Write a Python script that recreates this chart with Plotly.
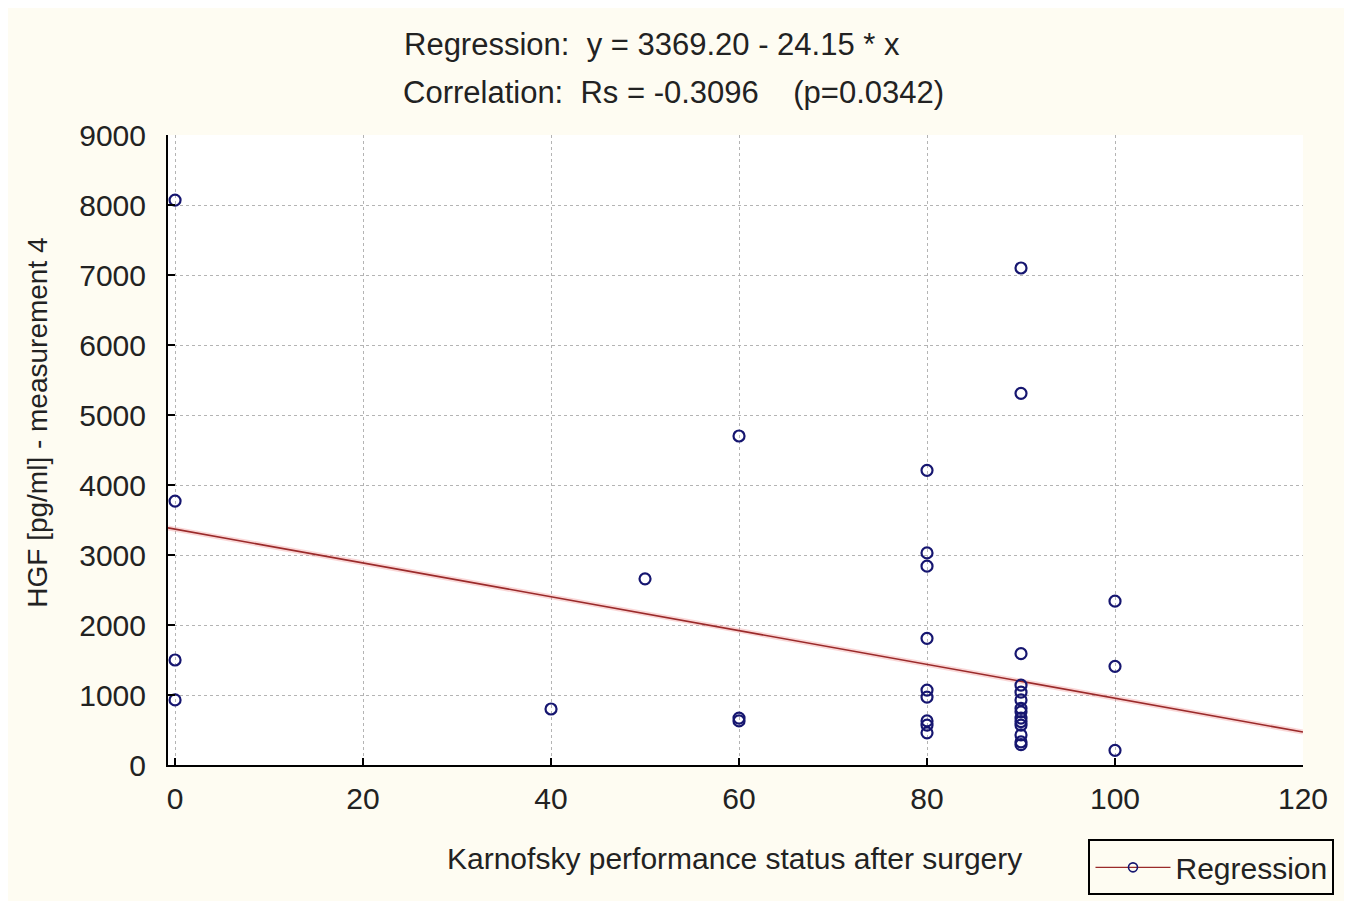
import plotly.graph_objects as go

# Data
kps = [0, 0, 0, 0,
       40, 50,
       60, 60, 60,
       80, 80, 80, 80, 80, 80, 80, 80, 80,
       90, 90, 90, 90, 90, 90, 90, 90, 90, 90, 90, 90, 90, 90,
       100, 100, 100]
hgf = [8070, 3770, 1500, 930,
       800, 2660,
       4700, 670, 630,
       4210, 3030, 2840, 1810, 1070, 970, 570, 460, 630,
       7100, 5310, 1590, 1140, 1040, 930, 810, 670, 570, 430, 330, 290, 620, 760,
       2340, 1410, 210]

intercept = 3369.20
slope = -24.15
x_range = [-0.75, 120]
y_range = [0, 9000]
x_ticks = [0, 20, 40, 60, 80, 100, 120]
y_ticks = [0, 1000, 2000, 3000, 4000, 5000, 6000, 7000, 8000, 9000]

line_color = "#9a2a2a"
marker_color = "#161670"
font_family = "Liberation Sans, Arial, sans-serif"
text_color = "#222222"

fig = go.Figure()

line_y = [intercept + slope * v for v in x_range]
fig.add_trace(go.Scatter(
    x=x_range, y=line_y, mode="lines",
    line=dict(color="rgba(240,140,140,0.35)", width=5),
    showlegend=False, hoverinfo="skip"))
fig.add_trace(go.Scatter(
    x=x_range, y=line_y, mode="lines",
    line=dict(color=line_color, width=1.6),
    showlegend=False, hoverinfo="skip"))

fig.add_trace(go.Scatter(
    x=kps, y=hgf, mode="markers",
    marker=dict(symbol="circle-open", size=11, color=marker_color,
                line=dict(width=2.2, color=marker_color)),
    showlegend=False))

fig.add_trace(go.Scatter(
    x=[None], y=[None], mode="lines+markers", name="Regression",
    line=dict(color=line_color, width=1.3),
    marker=dict(symbol="circle-open", size=9, color=marker_color,
                line=dict(width=1.6, color=marker_color)),
    showlegend=True))

axis_common = dict(
    showgrid=True, gridcolor="#b4b4b4", griddash="dot", gridwidth=1,
    showline=True, linecolor="black", linewidth=2,
    ticks="inside", ticklen=7, tickwidth=2, tickcolor="black",
    zeroline=False, mirror=False,
    tickfont=dict(family=font_family, size=30, color=text_color),
)

fig.update_xaxes(range=x_range, tickvals=x_ticks, ticklabelstandoff=6, **axis_common)
fig.update_yaxes(range=y_range, tickvals=y_ticks, ticklabelstandoff=14, **axis_common)

fig.update_layout(
    width=1344, height=893,
    margin=dict(l=160, r=49, t=127, b=136, autoexpand=False),
    paper_bgcolor="#fefcf2",
    plot_bgcolor="white",
    font=dict(family=font_family, color=text_color),
    legend=dict(x=0.811, y=-0.118, xanchor="left", yanchor="top",
                bordercolor="black", borderwidth=2, bgcolor="rgba(0,0,0,0)",
                font=dict(size=30, family=font_family, color=text_color),
                itemwidth=75),
    annotations=[
        dict(text="Regression:  y = 3369.20 - 24.15 * x", x=0.206, y=1.144,
             xref="paper", yref="paper", xanchor="left", yanchor="middle",
             showarrow=False, font=dict(size=31)),
        dict(text="Correlation:  Rs = -0.3096    (p=0.0342)", x=0.205, y=1.067,
             xref="paper", yref="paper", xanchor="left", yanchor="middle",
             showarrow=False, font=dict(size=31)),
        dict(text="HGF [pg/ml] - measurement 4", x=-0.115, y=0.544,
             xref="paper", yref="paper", xanchor="center", yanchor="middle",
             textangle=-90, showarrow=False, font=dict(size=28)),
        dict(text="Karnofsky performance status after surgery", x=0.499, y=-0.148,
             xref="paper", yref="paper", xanchor="center", yanchor="middle",
             showarrow=False, font=dict(size=30)),
    ],
)

fig.write_html("out.html")
